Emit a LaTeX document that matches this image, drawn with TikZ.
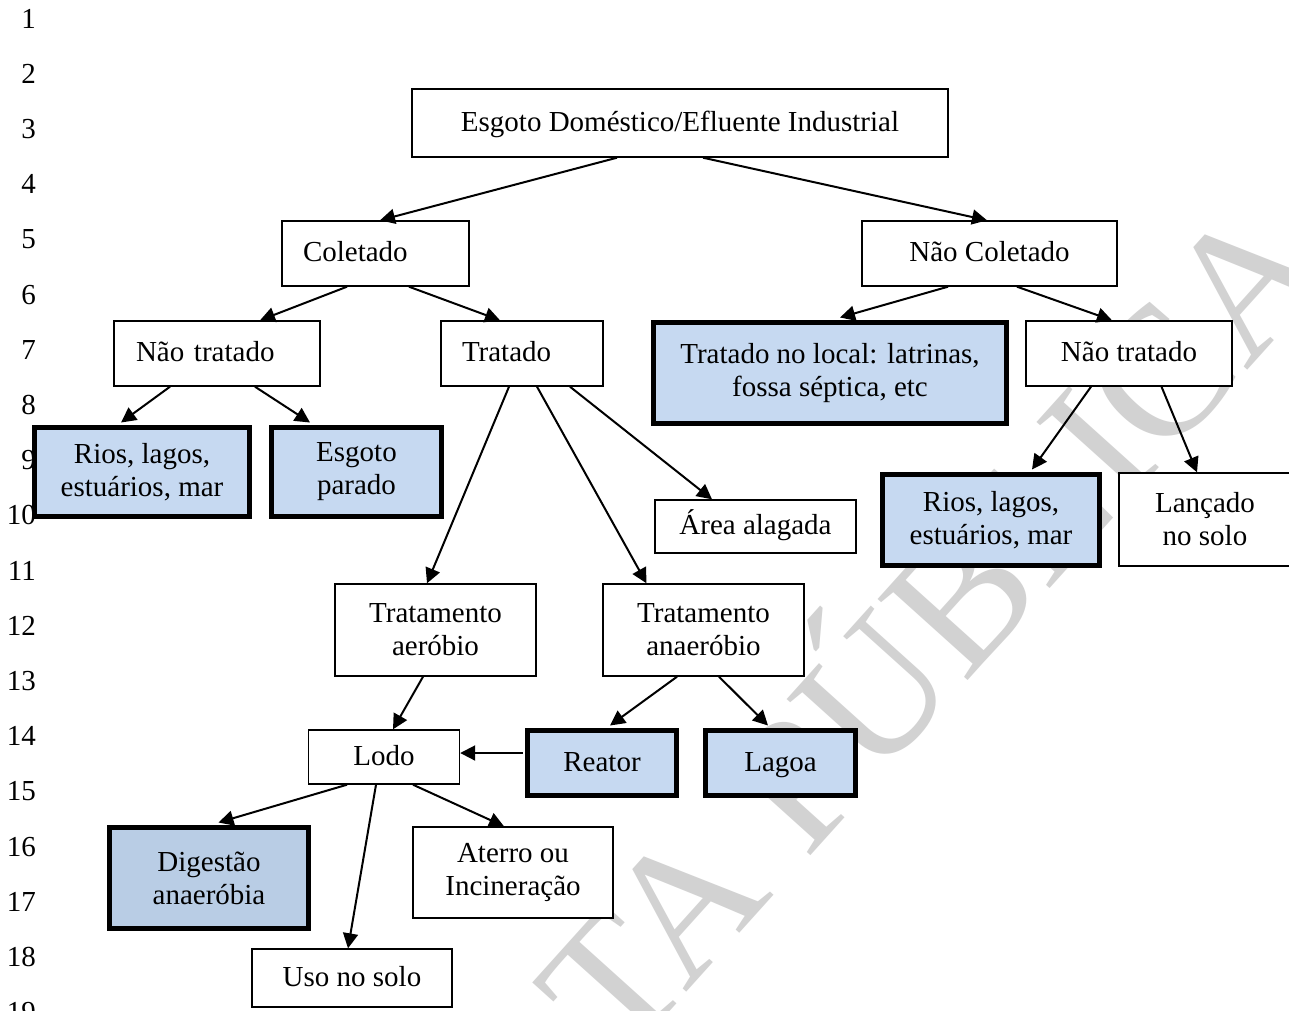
\documentclass[tikz,border=0pt]{standalone}
\usepackage{fontspec}
\setmainfont{Liberation Serif}
\usetikzlibrary{arrows.meta,calc}
\definecolor{bluefill}{RGB}{198,217,241}
\definecolor{bluefillb}{RGB}{185,205,229}
\definecolor{wmgray}{RGB}{210,210,210}
\begin{document}
\begin{tikzpicture}[x=1pt,y=-1pt,
  every node/.style={font=\fontsize{29}{33}\selectfont},
  box/.style={draw, line width=1.4pt, fill=white, inner sep=0pt, align=center},
  hbox/.style={draw, line width=5pt, fill=bluefill, inner sep=0pt, align=center},
  one/.style={text height=20pt, text depth=4pt},
  sz/.style 2 args={minimum width=#1pt, minimum height=#2pt},
  lft/.style 2 args={text width=#1pt, inner xsep=#2pt, align=left},
  arr/.style={line width=2pt, -{Triangle[length=15pt,width=15pt]}},
  wmark/.style={text=wmgray, rotate=48, anchor=base, inner sep=0pt, font=\fontsize{185}{185}\selectfont}
]
\useasboundingbox (0,0) rectangle (1289,1010);
\clip (0,0) rectangle (1289,1010);
\fill[white] (0,0) rectangle (1289,1010);

% watermark
\node[wmark] (wm) at (736,938) {CONSULTA PÚBLICA};

% line numbers
\foreach \k in {1,...,19}
  \node[anchor=base east, inner sep=0pt] (ln\k) at (36,{28+(\k-1)*55.2}) {\k};

% boxes
\node[box, one, sz={536}{68}] (top) at (680,123) {Esgoto Doméstico/Efluente Industrial};
\node[box, one, minimum height=65pt, lft={145}{21}] (col) at (375.5,253.5) {Coletado};
\node[box, one, sz={255}{65}] (ncol) at (989.5,253.5) {Não Coletado};
\node[box, one, minimum height=65pt, lft={162}{22}] (nt1) at (217,353.5) {Não tratado};
\node[box, one, minimum height=65pt, lft={120}{21}] (trat) at (522,353.5) {Tratado};
\node[hbox, sz={353}{101}] (tloc) at (830,373) {Tratado no local: latrinas,\\fossa séptica, etc};
\node[box, one, sz={206}{65}] (nt2) at (1129,353.5) {Não tratado};
\node[hbox, sz={215}{89}] (rios1) at (142,472) {Rios, lagos,\\estuários, mar};
\node[hbox, sz={170}{89}] (esg) at (356.5,472) {Esgoto\\parado};
\node[box, one, sz={201}{53}] (area) at (755.5,526.5) {Área alagada};
\node[hbox, sz={217}{91}] (rios2) at (991,520) {Rios, lagos,\\estuários, mar};
\node[box, sz={172}{93}] (lanc) at (1205,519.5) {Lançado\\no solo};
\node[box, sz={201}{92}] (taer) at (435.5,630) {Tratamento\\aeróbio};
\node[box, sz={201}{92}] (tana) at (703.5,630) {Tratamento\\anaeróbio};
\node[box, one, sz={151}{54}] (lodo) at (384,757) {Lodo};
\node[hbox, one, sz={149}{65}] (reat) at (602,763) {Reator};
\node[hbox, one, sz={150}{65}] (lag) at (780.5,763) {Lagoa};
\node[hbox, fill=bluefillb, sz={199}{101}] (dig) at (209,878) {Digestão\\anaeróbia};
\node[box, sz={200}{91}] (ater) at (513,872.5) {Aterro ou\\Incineração};
\node[box, one, sz={200}{58}] (uso) at (352,978) {Uso no solo};

% connectors
\draw[arr] ($(top.south)+(-63,0)$) -- ($(col.north)+(4.5,0)$);
\draw[arr] ($(top.south)+(23,0)$) -- ($(ncol.north)+(-2.5,0)$);
\draw[arr] ($(col.south)+(-28.5,0)$) -- ($(nt1.north)+(43,0)$);
\draw[arr] ($(col.south)+(33.5,0)$) -- ($(trat.north)+(-22,0)$);
\draw[arr] ($(ncol.south)+(-41.5,0)$) -- ($(tloc.north)+(10,-2.5)$);
\draw[arr] ($(ncol.south)+(27.5,0)$) -- ($(nt2.north)+(-17,0)$);
\draw[arr] ($(nt1.south)+(-47,0)$) -- ($(rios1.north)+(-21,-2.5)$);
\draw[arr] ($(nt1.south)+(38,0)$) -- ($(esg.north)+(-46.5,-2.5)$);
\draw[arr] ($(trat.south)+(-13,0)$) -- ($(taer.north)+(-8.5,0)$);
\draw[arr] ($(trat.south)+(15,0)$) -- ($(tana.north)+(-57,0)$);
\draw[arr] ($(trat.south)+(48,0)$) -- ($(area.north)+(-43.5,0)$);
\draw[arr] ($(nt2.south)+(-38,0)$) -- ($(rios2.north)+(41,-2.5)$);
\draw[arr] ($(nt2.south)+(32.5,0)$) -- ($(lanc.north)+(-8,0)$);
\draw[arr] ($(taer.south)+(-12.5,0)$) -- ($(lodo.north)+(9,0)$);
\draw[arr] ($(tana.south)+(-26.5,0)$) -- ($(reat.north)+(8,-2.5)$);
\draw[arr] ($(tana.south)+(15.5,0)$) -- ($(lag.north)+(-12.5,-2.5)$);
\draw[arr] ($(reat.west)+(-2.5,-10)$) -- ($(lodo.east)+(0,-4)$);
\draw[arr] ($(lodo.south)+(-37,0)$) -- ($(dig.north)+(9.5,-2.5)$);
\draw[arr] ($(lodo.south)+(-8,0)$) -- ($(uso.north)+(-4,0)$);
\draw[arr] ($(lodo.south)+(29,0)$) -- ($(ater.north)+(-9,0)$);
\end{tikzpicture}
\end{document}
